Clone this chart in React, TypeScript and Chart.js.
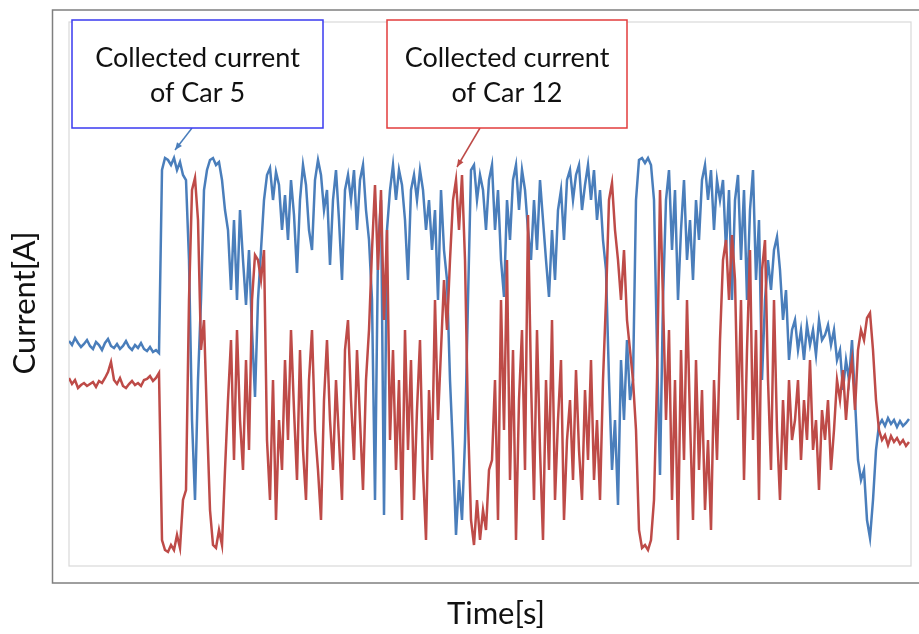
import { useEffect, useRef } from "react";
import { Chart, registerables } from "chart.js";

Chart.register(...registerables);

// Sample index along the time axis (unlabelled in the source figure)
const SAMPLE_COUNT = 281;

// Collected current of Car 5 (blue) (arbitrary units, 0..543)
const CAR5_CURRENT = [
  224, 220, 227, 222, 218, 221, 225, 219, 216, 223, 220, 215, 222, 226, 219, 217, 221, 216, 219, 224,
  218, 215, 220, 217, 222, 216, 214, 218, 213, 215, 212,
  395, 407, 405, 400, 407, 395, 403, 390, 385,
  305, 145, 65, 185, 265, 375, 395, 405, 407, 400, 403, 385, 355,
  335, 275, 345, 265, 355, 305, 260, 315, 235, 168, 265, 315, 365,
  390, 397, 365, 393, 380, 335, 370, 325, 385, 350, 292, 365, 400, 380, 335, 315, 385, 405, 390, 355,
  375, 300, 365, 395, 345, 285, 375, 390,
  365, 395, 335, 385, 400, 355, 325, 265, 65, 315, 365, 50, 335, 375, 400, 365, 395, 380, 345, 285,
  375, 390, 365, 395, 375, 335, 365, 315, 355, 265, 375, 315, 285, 185,
  115, 30, 85, 45, 125, 265, 395, 400, 365, 390, 375, 335, 385,
  400, 335, 375, 305, 268, 365, 325, 385, 400, 355, 395, 375, 335, 305, 365, 315, 385, 345, 305, 268,
  335, 285, 355, 375, 325, 385, 395, 365, 390, 400, 355, 380, 400, 365, 395, 345, 375, 325, 295,
  185, 95, 145, 60, 205, 145, 225, 165, 185, 365,
  405, 407, 402, 407, 400, 365, 215, 90, 265,
  365, 395, 315, 375, 265, 335, 385, 305, 345, 285, 365, 325, 385, 400, 365, 395, 335, 385, 365,
  385, 315, 375, 265, 365, 390, 305, 375, 265, 355, 395, 285, 345, 185,
  265, 305, 275, 315, 328, 295, 245, 275, 205, 235,
  245, 215, 235, 205, 240, 220, 235, 210, 245, 225, 230, 240, 220, 235, 205,
  215, 175, 205, 185, 225, 165, 105, 85, 95, 45, 27,
  65, 115, 140, 145, 139, 147, 141, 145, 138, 144, 139, 142, 146,
];

// Collected current of Car 12 (red)
const CAR12_CURRENT = [
  187, 181, 185, 177, 180, 182, 179, 181, 183, 178, 184, 182, 187, 193, 203, 185, 181, 187, 179, 177,
  181, 184, 180, 182, 179, 185, 186, 189, 184, 187, 192,
  25, 15, 13, 20, 15, 30, 17, 65, 75,
  265, 375, 387, 345, 215, 245, 145, 55, 20, 17, 35, 20, 95,
  165, 225, 105, 235, 145, 95, 205, 115, 265, 310, 305, 285, 315,
  125, 65, 185, 45, 145, 95, 205, 125, 235, 155, 85, 215, 115, 65, 185, 235, 135, 95, 45, 165,
  225, 145, 95, 185, 125, 65, 215, 245,
  165, 105, 215, 145, 75, 185, 235, 315, 380, 295, 375, 245, 335, 125, 215, 95, 185, 45, 235, 115,
  205, 65, 155, 225, 95, 25, 175, 105, 265, 145, 215, 285, 235, 305,
  365, 385, 335, 390, 305, 145, 45, 20, 65, 25, 55, 35, 95,
  105, 185, 45, 265, 135, 305, 85, 215, 25, 165, 235, 95, 350, 185, 65, 235, 115, 25, 185, 95,
  245, 65, 145, 205, 45, 125, 165, 85, 195, 115, 65, 175, 105, 205, 85, 145, 65, 185, 265,
  365, 382, 335, 305, 265, 315, 245, 215, 185, 135,
  35, 17, 20, 15, 25, 65, 185, 375, 265,
  145, 235, 65, 185, 25, 215, 105, 265, 145, 45, 205, 95, 175, 55, 125, 35, 185, 105, 225,
  305, 325, 265, 330, 285, 145, 265, 85, 215, 315, 125, 235, 65, 295,
  325, 185, 95, 265, 135, 65, 165, 95, 185, 125,
  145, 185, 105, 165, 125, 205, 115, 145, 75, 155, 125, 165, 95, 135, 185,
  165, 195, 145, 185, 205, 155, 215, 235, 225, 247, 252,
  215, 165, 135, 125, 130, 120, 129, 123, 127, 121, 125, 119, 123,
];

const X_LABEL = "Time[s]";
const Y_LABEL = "Current[A]";
const NOTE_CAR5 = ["Collected current", "of Car 5"];
const NOTE_CAR12 = ["Collected current", "of Car 12"];

const BLUE = "#4a7ebb";
const RED = "#be4b48";
const FONT = "Lato, 'Open Sans', sans-serif";

function toPoints(values: number[]) {
  return values.map((v, i) => ({ x: i, y: v }));
}

function drawArrow(ctx: CanvasRenderingContext2D, x1: number, y1: number, x2: number, y2: number, color: string) {
  ctx.save();
  ctx.strokeStyle = color;
  ctx.fillStyle = color;
  ctx.lineWidth = 1.5;
  ctx.beginPath();
  ctx.moveTo(x1, y1);
  ctx.lineTo(x2, y2);
  ctx.stroke();
  const ang = Math.atan2(y2 - y1, x2 - x1);
  const len = 8;
  ctx.beginPath();
  ctx.moveTo(x2, y2);
  ctx.lineTo(x2 - len * Math.cos(ang - 0.4), y2 - len * Math.sin(ang - 0.4));
  ctx.lineTo(x2 - len * Math.cos(ang + 0.4), y2 - len * Math.sin(ang + 0.4));
  ctx.closePath();
  ctx.fill();
  ctx.restore();
}

function drawNote(ctx: CanvasRenderingContext2D, x: number, y: number, w: number, h: number, color: string, lines: string[]) {
  ctx.save();
  ctx.fillStyle = "#ffffff";
  ctx.fillRect(x, y, w, h);
  ctx.strokeStyle = color;
  ctx.lineWidth = 1.5;
  ctx.strokeRect(x, y, w, h);
  ctx.fillStyle = "#111111";
  ctx.font = `27px ${FONT}`;
  ctx.textAlign = "center";
  ctx.textBaseline = "alphabetic";
  ctx.fillText(lines[0], x + w / 2, y + 47);
  ctx.fillText(lines[1], x + w / 2, y + 82);
  ctx.restore();
}

const framePlugin = {
  id: "frame",
  beforeDraw(chart: any) {
    const { ctx, chartArea } = chart;
    ctx.save();
    ctx.fillStyle = "#ffffff";
    ctx.fillRect(0, 0, chart.width, chart.height);
    ctx.strokeStyle = "#7f7f7f";
    ctx.lineWidth = 1.5;
    ctx.strokeRect(52.5, 10, chart.width + 10, 573);
    ctx.strokeStyle = "#d9d9d9";
    ctx.lineWidth = 1.2;
    ctx.strokeRect(chartArea.left, chartArea.top, chartArea.right - chartArea.left + 1, chartArea.bottom - chartArea.top + 1);
    ctx.restore();
  },
  afterDraw(chart: any) {
    const { ctx } = chart;
    drawArrow(ctx, 192, 128, 175, 150, BLUE);
    drawArrow(ctx, 480, 128, 457, 167, RED);
    drawNote(ctx, 72, 20, 251, 108, "#3a3af0", NOTE_CAR5);
    drawNote(ctx, 387, 20, 240, 108, "#e23c3c", NOTE_CAR12);
    ctx.save();
    ctx.fillStyle = "#111111";
    ctx.font = `31px ${FONT}`;
    ctx.textAlign = "center";
    ctx.textBaseline = "alphabetic";
    ctx.fillText(X_LABEL, 496, 624);
    ctx.translate(35, 303);
    ctx.rotate(-Math.PI / 2);
    ctx.fillText(Y_LABEL, 0, 0);
    ctx.restore();
  },
};

export default function App() {
  const canvasRef = useRef<HTMLCanvasElement | null>(null);

  useEffect(() => {
    if (!canvasRef.current) return;
    const chart = new Chart(canvasRef.current, {
      type: "line",
      data: {
        datasets: [
          {
            label: "Car 12",
            data: toPoints(CAR12_CURRENT),
            borderColor: RED,
            borderWidth: 2.5,
            pointRadius: 0,
            tension: 0,
            order: 1,
          },
          {
            label: "Car 5",
            data: toPoints(CAR5_CURRENT),
            borderColor: BLUE,
            borderWidth: 2.5,
            pointRadius: 0,
            tension: 0,
            order: 2,
          },
        ],
      },
      options: {
        animation: false,
        responsive: false,
        maintainAspectRatio: false,
        layout: { padding: { left: 69, top: 22, right: 9, bottom: 69 } },
        plugins: { legend: { display: false }, tooltip: { enabled: false } },
        scales: {
          x: { type: "linear", display: false, min: 0, max: (SAMPLE_COUNT - 1) * 841 / 840 },
          y: { type: "linear", display: false, min: 0, max: 543 },
        },
      },
      plugins: [framePlugin],
    });
    return () => chart.destroy();
  }, []);

  return (
    <div style={{ position: "absolute", left: 0, top: 0, width: 919, height: 634 }}>
      <canvas ref={canvasRef} width={919} height={634} style={{ display: "block" }} />
    </div>
  );
}
